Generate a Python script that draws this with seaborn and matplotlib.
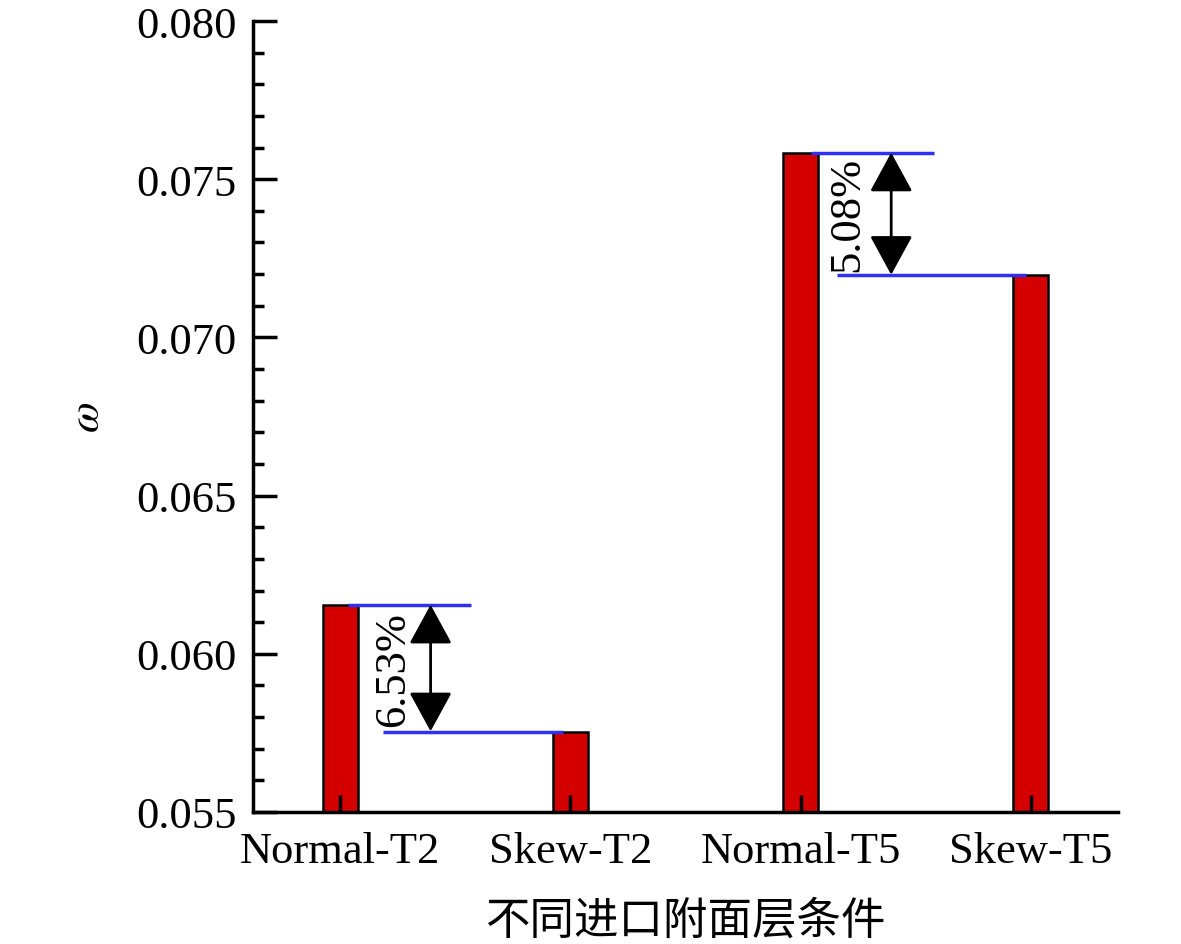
import numpy as np
import pandas as pd
import matplotlib
matplotlib.use('Agg')
import matplotlib.pyplot as plt
import seaborn as sns
from matplotlib.ticker import MultipleLocator

# 数据
categories = ['Normal-T2', 'Skew-T2', 'Normal-T5', 'Skew-T5']
omega = [0.06155, 0.05752, 0.07584, 0.07198]
pct_labels = ['6.53%', '5.08%']

sns.set_style('ticks')
plt.rcParams['font.family'] = ['Liberation Serif', 'Noto Sans CJK SC']
plt.rcParams['mathtext.fontset'] = 'stix'
for k in ['text.color', 'axes.labelcolor', 'xtick.color', 'ytick.color', 'axes.edgecolor']:
    plt.rcParams[k] = 'black'

df = pd.DataFrame({'cond': categories, 'omega': omega})

fig = plt.figure(figsize=(11.81, 9.45), dpi=100)
ax = fig.add_axes([0.2142, 0.1397, 0.7325, 0.837])

sns.barplot(data=df, x='cond', y='omega', color='#D40000', saturation=1,
            width=0.15, edgecolor='black', linewidth=1.8, ax=ax, zorder=1)

ax.set_ylim(0.055, 0.080)
ax.set_xlim(-0.38, 3.38)
ax.yaxis.set_major_locator(MultipleLocator(0.005))
ax.yaxis.set_minor_locator(MultipleLocator(0.001))
ax.yaxis.set_major_formatter(matplotlib.ticker.FormatStrFormatter('%.3f'))
ax.tick_params(axis='y', which='major', direction='in', length=17, width=2.5, labelsize=32, pad=12)
ax.tick_params(axis='y', which='minor', direction='in', length=8, width=2.5)
ax.tick_params(axis='x', direction='in', length=12, width=2.5, labelsize=32, pad=14)
for s in ['top', 'right']:
    ax.spines[s].set_visible(False)
for s in ['left', 'bottom']:
    ax.spines[s].set_linewidth(2.5)
ax.set_axisbelow(False)
ax.xaxis.set_zorder(5)

ax.set_xlabel('不同进口附面层条件', fontsize=32, family=['Noto Sans CJK SC'], labelpad=18)
ax.set_ylabel(r'$\omega$', fontsize=32, labelpad=20)

blue = '#3030F0'
# 差值标注
ax.hlines(omega[0], 0.035, 0.566, color=blue, lw=2.5, zorder=3)
ax.hlines(omega[1], 0.187, 0.966, color=blue, lw=2.5, zorder=3)
ax.hlines(omega[2], 2.046, 2.582, color=blue, lw=2.5, zorder=3)
ax.hlines(omega[3], 2.160, 2.980, color=blue, lw=2.5, zorder=3)

arrow = dict(arrowstyle='<|-|>,head_length=0.55,head_width=0.3', color='black', lw=2,
             mutation_scale=45, shrinkA=0, shrinkB=0)
ax.annotate('', xy=(0.392, omega[0]), xytext=(0.392, omega[1] + 0.00003), arrowprops=arrow)
ax.annotate('', xy=(2.394, omega[2]), xytext=(2.394, omega[3]), arrowprops=arrow)

ax.text(0.23, (omega[0] + omega[1]) / 2, pct_labels[0], rotation=90,
        ha='center', va='center', fontsize=32)
ax.text(2.205, (omega[2] + omega[3]) / 2, pct_labels[1], rotation=90,
        ha='center', va='center', fontsize=32)

fig.savefig('out.png', dpi=100)
